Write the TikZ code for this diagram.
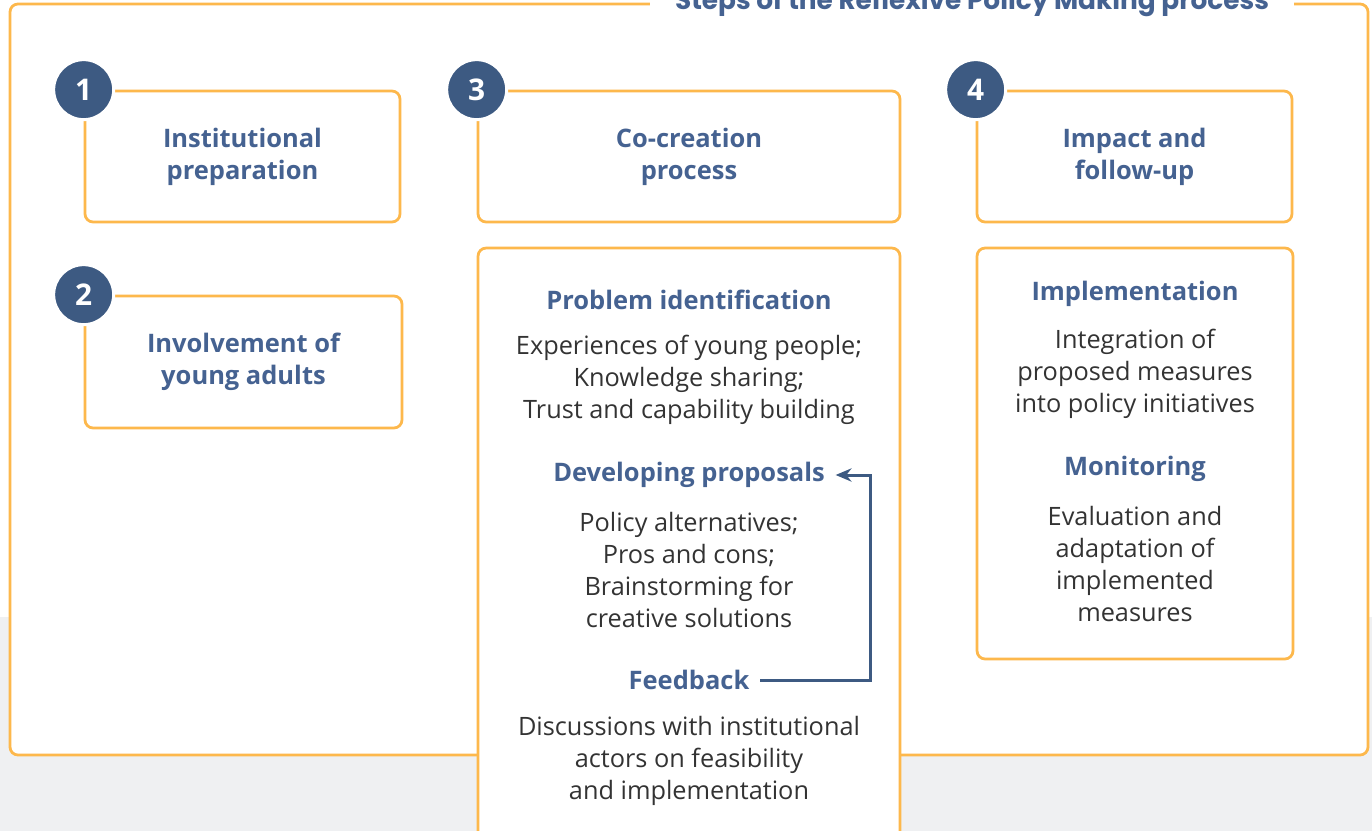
\documentclass[tikz,border=0pt]{standalone}
\usepackage{fontspec}
\usepackage{xcolor}
\usepackage{tikz}
\usetikzlibrary{arrows.meta}
\setmainfont{Open Sans}
\newfontfamily\titlefont{Poppins}
\definecolor{boxorange}{HTML}{FDB84C}
\definecolor{dotblue}{HTML}{3D5A82}
\definecolor{headblue}{HTML}{456291}
\definecolor{bodygray}{HTML}{333333}
\definecolor{bggray}{HTML}{EFF0F2}

\begin{document}
\begin{tikzpicture}[x=0.02cm, y=-0.02cm, >={Stealth[length=9pt, width=7.5pt]},
    stepbox/.style={draw=boxorange, line width=0.055cm, rounded corners=0.16cm, fill=white,
        align=center, text=headblue, font=\fontsize{14.5}{18.2}\selectfont\bfseries},
    numdot/.style={circle, fill=dotblue, draw=white, line width=0.06cm, minimum size=1.2cm,
        text=white, font=\fontsize{17}{20}\selectfont\bfseries},
    head/.style={text=headblue, inner xsep=6pt, font=\fontsize{14.5}{18.2}\selectfont\bfseries},
    body/.style={text=bodygray, align=center, font=\fontsize{14.4}{18.2}\selectfont},
    flow/.style={->, draw=dotblue, line width=0.06cm}]
    \useasboundingbox (0,0) rectangle (1372,831);
    \fill[bggray] (0,617) rectangle (1372,831);
    \draw[boxorange, line width=0.055cm, rounded corners=0.16cm, fill=white] (10,4) rectangle (1368,755);
    \node[fill=white, inner xsep=0.5cm, anchor=base, text=headblue,
        font=\titlefont\fontsize{15}{18}\selectfont\bfseries] (title) at (972,10)
        {Steps of the Reflexive Policy Making process};

    % step boxes
    \node[stepbox, minimum width=6.3cm, minimum height=2.62cm] (b1) at (242.5,156.5) {Institutional\\preparation};
    \node[stepbox, minimum width=6.34cm, minimum height=2.64cm] (b2) at (243.5,362) {Involvement of\\young adults};
    \node[stepbox, minimum width=8.44cm, minimum height=2.62cm] (b3) at (689,156.5) {Co-creation\\process};
    \node[stepbox, minimum width=6.3cm, minimum height=2.62cm] (b4) at (1134.5,156.5) {Impact and\\follow-up};
    \node[stepbox, minimum width=8.44cm, minimum height=12.4cm] (b3d) at (689,558) {};
    \node[stepbox, minimum width=6.32cm, minimum height=8.22cm] (b4d) at (1135,453.5) {};

    \node[numdot] (n1) at (b1.north west) {1};
    \node[numdot] (n2) at (b2.north west) {2};
    \node[numdot] (n3) at (b3.north west) {3};
    \node[numdot] (n4) at (b4.north west) {4};

    % co-creation details
    \node[head] (probid) at (689,300) {Problem identification};
    \node[body] (probtxt) at (689,380) {Experiences of young people;\\Knowledge sharing;\\Trust and capability building};
    \node[head] (dev) at (689,475) {Developing proposals};
    \node[body] (devtxt) at (689,570) {Policy alternatives;\\Pros and cons;\\Brainstorming for\\creative solutions};
    \node[head] (fb) at (689,680) {Feedback};
    \node[body] (fbtxt) at (689,761) {Discussions with institutional\\actors on feasibility\\and implementation};
    \coordinate (turn) at (870,0);
    \draw[flow] (fb.east) -- (fb.east -| turn) |- (dev.east);

    % impact details
    \node[head] (impl) at (1135,294) {Implementation};
    \node[body] (impltxt) at (1135,374) {Integration of\\proposed measures\\into policy initiatives};
    \node[head] (mon) at (1135,469) {Monitoring};
    \node[body] (montxt) at (1135,564) {Evaluation and\\adaptation of\\implemented\\measures};
\end{tikzpicture}
\end{document}
